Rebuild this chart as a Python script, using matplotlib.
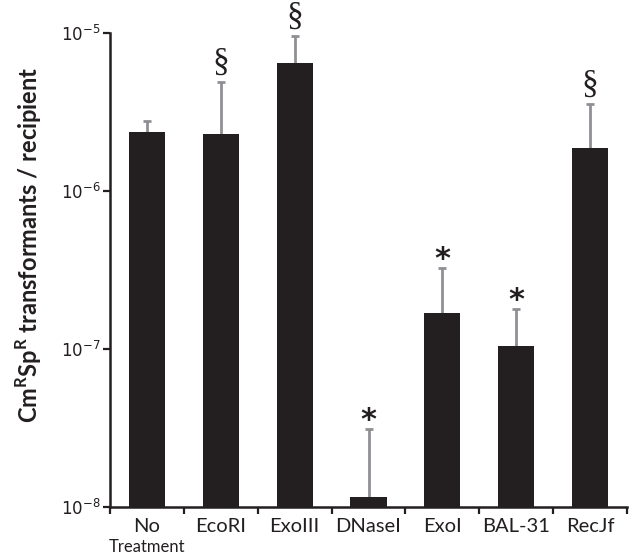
import numpy as np
import matplotlib
matplotlib.use("Agg")
import matplotlib.pyplot as plt
from matplotlib.ticker import NullLocator, FixedLocator

# ======================================
# data
# ======================================

categories = ["No", "EcoRI", "ExoIII", "DNaseI", "ExoI", "BAL-31", "RecJf"]
values = [2.36e-6, 2.30e-6, 6.43e-6, 1.15e-8, 1.68e-7, 1.05e-7, 1.88e-6]
upper = [2.77e-6, 4.87e-6, 9.61e-6, 3.12e-8, 3.27e-7, 1.79e-7, 3.56e-6]
marks = ["", "§", "§", "*", "*", "*", "§"]

# ======================================
# figure
# ======================================

BAR_COLOR = "#231f20"
ERR_COLOR = "#8e9094"

plt.rcParams["mathtext.fontset"] = "custom"
plt.rcParams["mathtext.rm"] = "Lato"
plt.rcParams["mathtext.bf"] = "Lato:bold"

fig = plt.figure(figsize=(6.29, 5.58), dpi=100)
ax = fig.add_axes([110 / 629, 51 / 558, 517 / 629, 474 / 558])

x = np.arange(len(categories))

ax.bar(x, values, width=0.49, color=BAR_COLOR, zorder=3)

# upper error bars only
ax.vlines(x, values, upper, color=ERR_COLOR, lw=2.0, zorder=2)
ax.plot(x, upper, ls="none", marker="_", ms=6, mew=2.0, color=ERR_COLOR, zorder=2)

# significance marks
for xi, top, m in zip(x, upper, marks):
    if m == "§":
        ax.annotate(m, (xi, top), xytext=(0, 3), textcoords="offset points",
                    ha="center", va="bottom", fontsize=24,
                    family="Liberation Serif", color=BAR_COLOR)
    elif m == "*":
        ax.annotate(m, (xi, top), xytext=(0, -4.5), textcoords="offset points",
                    ha="center", va="bottom", fontsize=22,
                    family="DejaVu Sans", fontweight="bold", color=BAR_COLOR)

# ======================================
# axes
# ======================================

ax.set_yscale("log")
ax.set_ylim(1e-8, 1e-5)
ax.set_xlim(-0.5, len(categories) - 0.5)

ax.yaxis.set_major_locator(FixedLocator([1e-8, 1e-7, 1e-6, 1e-5]))
ax.yaxis.set_minor_locator(NullLocator())
ax.tick_params(axis="y", which="major", direction="out", length=5, width=1.6,
               labelsize=12, pad=2, colors="#231f20")
for lab in ax.get_yticklabels():
    lab.set_family("DejaVu Sans")

ax.set_xticks(x)
ax.set_xticklabels(categories, family="Lato", fontsize=14.5)
ax.tick_params(axis="x", which="major", length=0, pad=8, colors="#231f20")
ax.set_xticks(np.arange(len(categories) + 1) - 0.5, minor=True)
ax.tick_params(axis="x", which="minor", direction="out", length=5, width=1.6,
               color="#231f20")

ax.text(0, -0.085, "Treatment", transform=ax.get_xaxis_transform(),
        ha="center", va="center", family="Lato", fontsize=12, color="#231f20")

for side in ["top", "right"]:
    ax.spines[side].set_visible(False)
for side in ["left", "bottom"]:
    ax.spines[side].set_linewidth(1.8)
    ax.spines[side].set_color("#231f20")

ax.set_ylabel(r"Cm$^{\mathbf{R}}$Sp$^{\mathbf{R}}$ transformants / recipient",
              family="Lato", fontweight="bold", fontsize=17, color="#231f20")
ax.yaxis.set_label_coords(-0.157, 0.553)
ax.yaxis.label.set_va("center")

plt.savefig("out.png", dpi=100)
